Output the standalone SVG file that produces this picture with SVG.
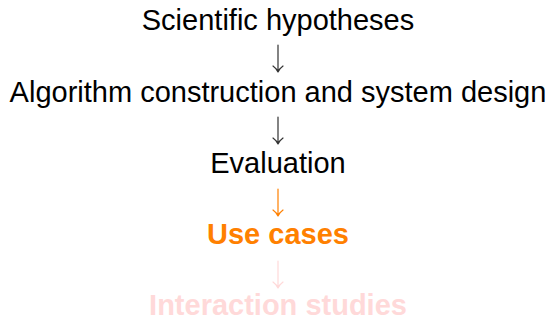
<svg xmlns="http://www.w3.org/2000/svg" width="550" height="320" viewBox="0 0 550 320">
<style>
text{font-family:"Liberation Sans",Arial,sans-serif;font-size:29px;text-anchor:middle}
.b{font-weight:bold}
.k{fill:#000}
.o{fill:#ff8000}
.p{fill:#ffd9d9}
.a{fill:none;stroke-width:1.2;stroke-linecap:round;stroke-linejoin:round}
.ak{stroke:#333}
.ao{stroke:#ff8000}
.ap{stroke:#ffd9d9}
</style>
<rect width="550" height="320" fill="#fff"/>
<g id="connectors">
<path class="a ak" d="M278,45V72M273,66Q277,69 278,72Q279,69 283,66"/>
<path class="a ak" d="M278,117V144M273,138Q277,141 278,144Q279,141 283,138"/>
<path class="a ao" d="M278,189V216M273,210Q277,213 278,216Q279,213 283,210"/>
<path class="a ap" d="M278,261V288M273,282Q277,285 278,288Q279,285 283,282"/>
</g>
<g id="n1"><text class="k" x="278" y="30">Scientific hypotheses</text></g>
<g id="n2"><text class="k" x="278" y="102">Algorithm construction and system design</text></g>
<g id="n3"><text class="k" x="278" y="173">Evaluation</text></g>
<g id="n4"><text class="b o" x="278" y="244">Use cases</text></g>
<g id="n5"><text class="b p" x="278" y="315">Interaction studies</text></g>
</svg>
